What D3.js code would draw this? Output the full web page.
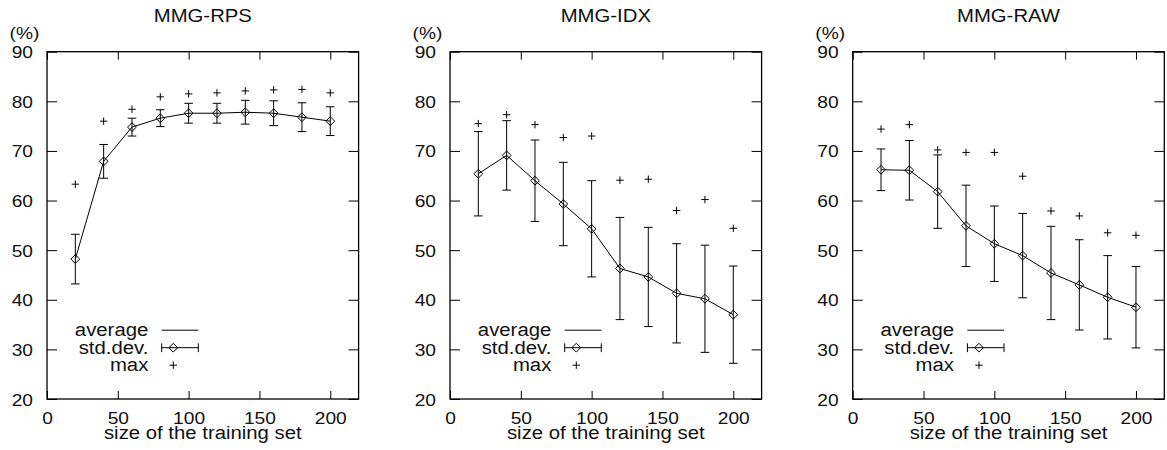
<!DOCTYPE html>
<html>
<head>
<meta charset="utf-8">
<script src="https://cdn.jsdelivr.net/npm/d3@7"></script>
<style>
  body { margin: 0; background: #fff; }
  svg { display: block; }
</style>
</head>
<body>
<svg class="trainViz" width="1167" height="450"></svg>
<script>
// training set sizes (x)
const sizes = [20, 40, 60, 80, 100, 120, 140, 160, 180, 200];

// MMG-RPS
const rpsAvg = [48.2, 67.9, 74.8, 76.6, 77.6, 77.6, 77.8, 77.6, 76.8, 76.0];
const rpsSd  = [5.0, 3.4, 1.8, 1.7, 2.0, 2.0, 2.4, 2.5, 2.9, 2.9];
const rpsMax = [63.3, 76.0, 78.4, 80.9, 81.5, 81.7, 82.1, 82.3, 82.4, 81.7];

// MMG-IDX
const idxAvg = [65.4, 69.1, 64.0, 59.3, 54.3, 46.3, 44.6, 41.3, 40.2, 37.0];
const idxSd  = [8.5, 7.0, 8.2, 8.4, 9.7, 10.3, 10.0, 10.0, 10.8, 9.8];
const idxMax = [75.5, 77.3, 75.3, 72.7, 73.0, 64.1, 64.3, 58.0, 60.2, 54.4];

// MMG-RAW
const rawAvg = [66.2, 66.1, 61.8, 54.9, 51.3, 48.9, 45.4, 43.0, 40.5, 38.5];
const rawSd  = [4.2, 6.0, 7.4, 8.2, 7.6, 8.5, 9.4, 9.1, 8.4, 8.2];
const rawMax = [74.4, 75.3, 70.2, 69.7, 69.7, 64.9, 57.9, 56.9, 53.5, 53.0];

const titles = ['MMG-RPS', 'MMG-IDX', 'MMG-RAW'];
const xTicks = [0, 50, 100, 150, 200];
const yTicks = [20, 30, 40, 50, 60, 70, 80, 90];
const legendLabels = ['average', 'std.dev.', 'max'];

const panels = [
  {title: titles[0], avg: rpsAvg, sd: rpsSd, max: rpsMax},
  {title: titles[1], avg: idxAvg, sd: idxSd, max: idxMax},
  {title: titles[2], avg: rawAvg, sd: rawSd, max: rawMax}
];

const panelLeft = [47, 450, 852.7];
const plotTop = 51.7;
const plotW = 311.6;
const plotH = 347.3;
const font = "'Liberation Sans', Arial, Helvetica, sans-serif";
const stretch = 'scale(1.13,1)';   // the original lettering is a bit wide

const x = d3.scaleLinear().domain([0, 220]).range([0, plotW]);
const y = d3.scaleLinear().domain([20, 90]).range([plotH, 0]);

const svg = d3.select('svg.trainViz');

function addText(g, px, py, str, anchor, size){
  return g.append('text')
          .attr('transform', `translate(${px},${py}) ${stretch}`)
          .attr('text-anchor', anchor)
          .style('font-family', font)
          .style('font-size', `${size}px`)
          .style('fill', '#111')
          .text(str);
}

function diamond(g, cx, cy, r){
  g.append('path')
   .attr('d', `M${cx - r},${cy} L${cx},${cy - r} L${cx + r},${cy} L${cx},${cy + r} Z`)
   .style('fill', 'none')
   .style('stroke', '#000')
   .style('stroke-width', 1);
}

function plus(g, cx, cy, r){
  g.append('path')
   .attr('d', `M${cx - r},${cy} H${cx + r} M${cx},${cy - r} V${cy + r}`)
   .style('fill', 'none')
   .style('stroke', '#000')
   .style('stroke-width', 1);
}

panels.forEach((p, k) => {
  const g = svg.append('g')
               .attr('class', 'panel')
               .attr('transform', `translate(${panelLeft[k]}, ${plotTop})`);

  const rows = sizes.map((s, i) => ({size: s, avg: p.avg[i], sd: p.sd[i], max: p.max[i]}));

  // axes, ticks pointing inward on all four sides
  const bottom = g.append('g')
                  .attr('transform', `translate(0, ${plotH})`)
                  .call(d3.axisBottom(x).tickValues(xTicks).tickSizeInner(-8).tickSizeOuter(0));
  bottom.selectAll('text')
        .attr('y', null).attr('dy', null)
        .attr('transform', `translate(0, 25) ${stretch}`)
        .style('font-family', font).style('font-size', '17px').style('fill', '#111');

  const left = g.append('g')
                .call(d3.axisLeft(y).tickValues(yTicks).tickSizeInner(-10).tickSizeOuter(0));
  left.selectAll('text')
      .attr('x', null).attr('dy', null)
      .attr('transform', `translate(-14, 6) ${stretch}`)
      .style('font-family', font).style('font-size', '17px').style('fill', '#111');

  g.append('g')
   .call(d3.axisTop(x).tickValues(xTicks).tickSizeInner(-8).tickSizeOuter(0).tickFormat(''));
  g.append('g')
   .attr('transform', `translate(${plotW}, 0)`)
   .call(d3.axisRight(y).tickValues(yTicks).tickSizeInner(-10).tickSizeOuter(0).tickFormat(''));

  g.selectAll('.domain').remove();
  g.selectAll('.tick line').style('stroke', '#000').style('stroke-width', 1);

  g.append('rect')
   .attr('x', 0).attr('y', 0)
   .attr('width', plotW).attr('height', plotH)
   .style('fill', 'none')
   .style('stroke', '#000')
   .style('stroke-width', 1.3);

  // titles and axis labels
  addText(g, plotW / 2, -29.5, p.title, 'middle', 18);
  addText(g, -22.5, -12.3, '(%)', 'middle', 17);
  addText(g, plotW / 2, plotH + 40, 'size of the training set', 'middle', 18);

  // average line
  const line = d3.line().x(d => x(d.size)).y(d => y(d.avg));
  g.append('path')
   .datum(rows)
   .attr('d', line)
   .style('fill', 'none')
   .style('stroke', '#000')
   .style('stroke-width', 1);

  // std.dev. error bars
  const bars = g.selectAll('g.err')
                .data(rows)
                .enter()
                .append('g')
                .attr('class', 'err');
  bars.append('path')
      .attr('d', d => {
        const cx = x(d.size), hi = y(d.avg + d.sd), lo = y(d.avg - d.sd);
        return `M${cx},${hi} V${lo} M${cx - 4.3},${hi} H${cx + 4.3} M${cx - 4.3},${lo} H${cx + 4.3}`;
      })
      .style('fill', 'none')
      .style('stroke', '#000')
      .style('stroke-width', 1);
  bars.each(function(d){ diamond(d3.select(this), x(d.size), y(d.avg), 4.4); });

  // max points
  rows.forEach(d => plus(g, x(d.size), y(d.max), 3.7));

  // legend
  const lg = g.append('g').attr('class', 'legend');
  legendLabels.forEach((lab, i) => {
    const cy = 278.5 + i * 17.5;
    addText(lg, 101.3, cy + 5.8, lab, 'end', 18);
  });
  lg.append('line')
    .attr('x1', 114.7).attr('x2', 151.3)
    .attr('y1', 278.5).attr('y2', 278.5)
    .style('stroke', '#000').style('stroke-width', 1);
  lg.append('path')
    .attr('d', `M114.7,296 H151.3 M114.7,291.6 V300.4 M151.3,291.6 V300.4`)
    .style('fill', 'none').style('stroke', '#000').style('stroke-width', 1);
  diamond(lg, 126.3, 296, 4.4);
  plus(lg, 126.3, 313.5, 3.7);
});
</script>
</body>
</html>
